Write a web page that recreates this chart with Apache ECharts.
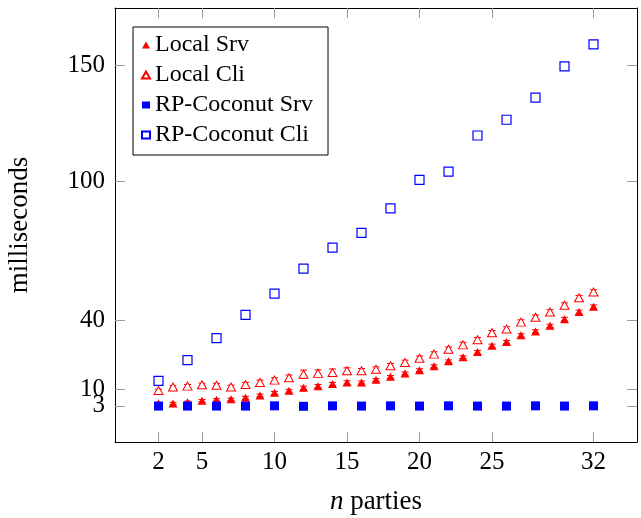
<!DOCTYPE html>
<html>
<head>
<meta charset="utf-8">
<script src="https://cdn.jsdelivr.net/npm/echarts@6/dist/echarts.min.js"></script>
<style>html,body{margin:0;padding:0;background:#fff}#c{width:641px;height:518px}</style>
</head>
<body>
<div id="c"></div>
<script>
// ---- data ----
const localX = [2,3,4,5,6,7,8,9,10,11,12,13,14,15,16,17,18,19,20,21,22,23,24,25,26,27,28,29,30,31,32];
const localSrv = [4.0,4.0,4.5,5.2,5.6,5.8,6.5,7.5,8.6,9.5,10.8,11.5,12.4,13.1,13.1,14.2,15.5,17.0,18.4,20.1,22.2,24.0,26.2,28.9,30.5,33.4,35.1,37.5,40.4,43.5,45.7];
const localSrvErr = [0.5,0.5,0.5,0.5,0.5,0.5,0.6,0.6,0.6,0.6,0.7,0.7,0.7,0.7,0.6,0.6,0.6,0.6,0.6,0.6,0.6,0.6,0.7,0.7,0.7,0.7,0.7,0.7,0.8,0.8,0.8];
const localCli = [9.6,11.1,11.5,12.1,11.9,11.1,12.2,13.1,14.1,15.1,16.6,17.0,17.4,18.1,18.1,18.8,20.3,21.7,23.5,25.3,27.4,29.3,31.5,34.5,36.1,39.1,41.2,43.5,46.4,49.6,52.1];
const localCliErr = [0.6,0.6,0.7,0.7,0.8,0.8,0.9,1.0,1.0,1.2,1.8,1.5,1.5,1.3,1.0,1.0,1.0,1.0,1.0,1.0,1.0,1.1,1.0,1.0,1.0,1.0,1.0,1.0,1.0,1.0,1.0];
const rpX = [2,4,6,8,10,12,14,16,18,20,22,24,26,28,30,32];
const rpSrv = [2.9,2.9,2.9,2.9,3.0,2.8,3.0,2.9,3.0,2.9,3.0,2.9,2.9,3.0,2.9,3.0];
const rpCli = [13.8,22.7,32.2,42.2,51.4,62.2,71.2,77.6,88.2,100.5,104.0,119.6,126.4,135.9,149.4,158.9];
const xTicks = [2,5,10,15,20,25,32];
const yTicks = [10,40,100,150];
const yTicksLow = [3];
const seriesNames = ['Local Srv','Local Cli','RP-Coconut Srv','RP-Coconut Cli'];
const xLabel = 'parties';
const yLabel = 'milliseconds';

const FONT = 'Liberation Serif';
const RED = '#ff0000', BLUE = '#0000ff';
const pairs = (xs, ys) => xs.map((x, i) => [x, ys[i]]);
const triples = (xs, ys, es) => xs.map((x, i) => [x, ys[i], es[i]]);

function errRender(params, api) {
  const x = api.value(0), y = api.value(1), e = api.value(2);
  const lo = api.coord([x, y - e]);
  const hi = api.coord([x, y + e]);
  const w = 3.5;
  const st = { stroke: RED, lineWidth: 1 };
  return {
    type: 'group',
    children: [
      { type: 'line', shape: { x1: lo[0], y1: lo[1], x2: hi[0], y2: hi[1] }, style: st },
      { type: 'line', shape: { x1: lo[0] - w, y1: lo[1], x2: lo[0] + w, y2: lo[1] }, style: st },
      { type: 'line', shape: { x1: hi[0] - w, y1: hi[1], x2: hi[0] + w, y2: hi[1] }, style: st }
    ]
  };
}

const tickStyle = { color: '#9a9a9a', width: 1 };
const axisLineStyle = { color: '#000', width: 1 };
const labelStyle = { color: '#000', fontFamily: FONT, fontSize: 25, hideOverlap: false };
const allY = yTicksLow.concat(yTicks);
const Y_MIN = -12.6, Y_MAX = 174.6;

const chart = echarts.init(document.getElementById('c'), null, { renderer: 'canvas' });
chart.setOption({
  animation: false,
  backgroundColor: '#fff',
  grid: { left: 115, top: 8, right: 4, bottom: 76, containLabel: false, outerBoundsMode: 'none' },
  legend: {
    orient: 'vertical', align: 'left',
    left: 133, top: 27,
    padding: [6, 15, 8, 8],
    itemGap: 6, itemWidth: 8, itemHeight: 7,
    borderColor: '#000', borderWidth: 1, borderRadius: 0,
    backgroundColor: '#fff',
    textStyle: { color: '#000', fontFamily: FONT, fontSize: 24, lineHeight: 24 },
    data: seriesNames,
    selectedMode: false
  },
  xAxis: [
    {
      type: 'value', min: -1, max: 35, position: 'bottom',
      axisLine: { onZero: false, lineStyle: axisLineStyle },
      axisTick: { inside: true, length: 10, customValues: xTicks, lineStyle: tickStyle },
      axisLabel: Object.assign({ customValues: xTicks, margin: 8 }, labelStyle),
      splitLine: { show: false },
      name: '{i|n} ' + xLabel, nameLocation: 'middle', nameGap: 46,
      nameTextStyle: { color: '#000', fontFamily: FONT, fontSize: 27,
        rich: { i: { fontFamily: FONT, fontStyle: 'italic', fontSize: 27, color: '#000' } } }
    },
    {
      type: 'value', min: -1, max: 35, position: 'top',
      axisLine: { show: true, onZero: false, lineStyle: axisLineStyle },
      axisTick: { show: true, inside: true, length: 10, customValues: xTicks, lineStyle: tickStyle },
      axisLabel: { show: false },
      splitLine: { show: false }
    }
  ],
  yAxis: [
    {
      type: 'value', min: Y_MIN, max: Y_MAX, position: 'left',
      axisLine: { show: true, onZero: false, lineStyle: axisLineStyle },
      axisTick: { show: true, inside: true, length: 10, customValues: allY, lineStyle: tickStyle },
      axisLabel: Object.assign({ customValues: yTicks, margin: 10 }, labelStyle),
      splitLine: { show: false },
      name: yLabel, nameLocation: 'middle', nameGap: 82, nameRotate: 90,
      nameTextStyle: { color: '#000', fontFamily: FONT, fontSize: 27 }
    },
    {
      type: 'value', min: Y_MIN, max: Y_MAX, position: 'right',
      axisLine: { show: true, onZero: false, lineStyle: axisLineStyle },
      axisTick: { show: true, inside: true, length: 10, customValues: allY, lineStyle: tickStyle },
      axisLabel: { show: false },
      splitLine: { show: false }
    },
    {
      type: 'value', min: Y_MIN, max: Y_MAX, position: 'left',
      axisLine: { show: false, onZero: false },
      axisTick: { show: false },
      axisLabel: Object.assign({ customValues: yTicksLow, margin: 10 }, labelStyle),
      splitLine: { show: false }
    }
  ],
  series: [
    { type: 'custom', name: 'srvErr', renderItem: errRender, data: triples(localX, localSrv, localSrvErr), z: 2, silent: true },
    { type: 'scatter', name: seriesNames[0], data: pairs(localX, localSrv), symbol: 'triangle', symbolSize: [9, 8],
      itemStyle: { color: RED, opacity: 1 }, z: 2 },
    { type: 'custom', name: 'cliErr', renderItem: errRender, data: triples(localX, localCli, localCliErr), z: 2, silent: true },
    { type: 'scatter', name: seriesNames[1], data: pairs(localX, localCli), symbol: 'triangle', symbolSize: [9, 8],
      itemStyle: { color: '#fff', borderColor: RED, borderWidth: 1, opacity: 1 }, z: 2 },
    { type: 'scatter', name: seriesNames[2], data: pairs(rpX, rpSrv), symbol: 'rect', symbolSize: 9,
      itemStyle: { color: BLUE, opacity: 1 }, z: 3 },
    { type: 'scatter', name: seriesNames[3], data: pairs(rpX, rpCli), symbol: 'rect', symbolSize: 9,
      itemStyle: { color: '#fff', borderColor: BLUE, borderWidth: 1.2, opacity: 1 }, z: 3 }
  ]
});
</script>
</body>
</html>
